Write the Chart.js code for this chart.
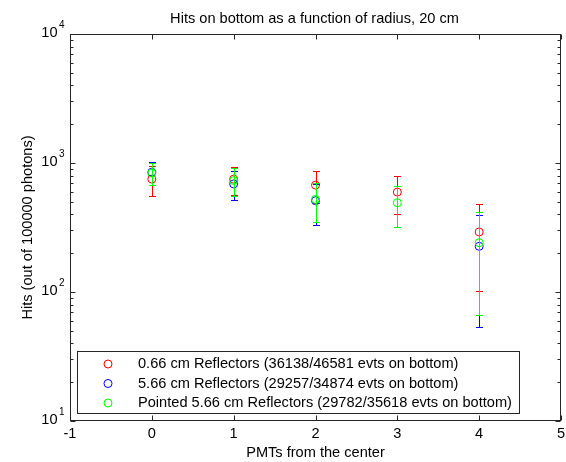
<!DOCTYPE html>
<html>
<head>
<meta charset="utf-8">
<script src="https://cdn.jsdelivr.net/npm/chart.js@4.4.0/dist/chart.umd.min.js"></script>
<style>
  html, body { margin: 0; padding: 0; background: #fff; }
  #wrap { width: 566px; height: 462px; }
</style>
</head>
<body>
<div id="wrap"><canvas id="hits-chart" width="566" height="462"></canvas></div>
<script>
// values (hits out of 100000 photons)
var pmtPos = [0, 1, 2, 3, 4];
var hitsThin = [750, 750, 674, 595, 292];
var errThin = [193, 185, 188, 193, 190];
var hitsThick = [848, 688, 510, null, 226];
var errThick = [170, 175, 181, null, 172];
var hitsPointed = [836, 731, 522, 492, 241];
var errPointed = [158, 178, 173, 173, 175];

var seriesLabels = [
    '0.66 cm Reflectors (36138/46581 evts on bottom)',
    '5.66 cm Reflectors (29257/34874 evts on bottom)',
    'Pointed 5.66 cm Reflectors (29782/35618 evts on bottom)'
];
var seriesColors = ['#ff0000', '#0000ff', '#00ff00'];

var xTicks = [-1, 0, 1, 2, 3, 4, 5];
var yDecades = [10, 100, 1000, 10000];
var yExponents = ['1', '2', '3', '4'];
var minorSteps = [2, 3, 4, 5, 6, 7, 8, 9];

var chartTitle = 'Hits on bottom as a function of radius, 20 cm';
var xTitle = 'PMTs from the center';
var yTitle = 'Hits (out of 100000 photons)';

var FONT = '"Liberation Sans", Arial, sans-serif';
var TXT = '14.6px ' + FONT;

function toPoints(ys) {
    return pmtPos.map(function (x, i) { return { x: x, y: ys[i] }; });
}

// error bars, drawn just before each series' markers (pixel rects so they stay crisp)
var errorBars = {
    id: 'errorBars',
    beforeDatasetDraw: function (chart, args) {
        var set = chart.data.datasets[args.index];
        var xs = chart.scales.x, ys = chart.scales.y;
        var ctx = chart.ctx, area = chart.chartArea;
        ctx.save();
        ctx.fillStyle = set.borderColor;
        set.data.forEach(function (p, i) {
            if (p.y == null) return;
            var e = set.errors[i];
            var px = Math.round(xs.getPixelForValue(p.x));
            var top = Math.round(ys.getPixelForValue(p.y + e));
            var bot = Math.round(ys.getPixelForValue(p.y - e));
            top = Math.max(top, Math.round(area.top));
            bot = Math.min(bot, Math.round(area.bottom) - 1);
            ctx.fillRect(px, top, 1, bot - top + 1);
            ctx.fillRect(px - 3, top, 7, 1);
            ctx.fillRect(px - 3, bot, 7, 1);
        });
        ctx.restore();
    }
};

// matlab style box, inward ticks, labels and legend
var axesBox = {
    id: 'axesBox',
    afterDraw: function (chart) {
        var ctx = chart.ctx, a = chart.chartArea;
        var xs = chart.scales.x, ys = chart.scales.y;
        var L = Math.round(a.left) + 0.5, R = Math.round(a.right) - 0.5;
        var T = Math.round(a.top) + 0.5, B = Math.round(a.bottom) - 0.5;
        ctx.save();
        ctx.strokeStyle = '#262626';
        ctx.lineWidth = 1;
        ctx.strokeRect(L, T, R - L, B - T);

        ctx.beginPath();
        xTicks.forEach(function (v) {
            var px = Math.round(xs.getPixelForValue(v)) + 0.5;
            ctx.moveTo(px, B); ctx.lineTo(px, B - 5);
            ctx.moveTo(px, T); ctx.lineTo(px, T + 5);
        });
        yDecades.forEach(function (d, k) {
            var py = Math.round(ys.getPixelForValue(d)) + 0.5;
            ctx.moveTo(L, py); ctx.lineTo(L + 5, py);
            ctx.moveTo(R, py); ctx.lineTo(R - 5, py);
            if (k == yDecades.length - 1) return;
            minorSteps.forEach(function (m) {
                var pm = Math.round(ys.getPixelForValue(d * m)) + 0.5;
                ctx.moveTo(L, pm); ctx.lineTo(L + 3, pm);
                ctx.moveTo(R, pm); ctx.lineTo(R - 3, pm);
            });
        });
        ctx.stroke();

        ctx.fillStyle = '#000';
        ctx.font = TXT;
        ctx.textBaseline = 'middle';
        ctx.textAlign = 'center';
        xTicks.forEach(function (v) {
            ctx.fillText(String(v), xs.getPixelForValue(v), a.bottom + 13);
        });
        yDecades.forEach(function (d, k) {
            var py = ys.getPixelForValue(d);
            ctx.font = TXT;
            ctx.textAlign = 'right';
            ctx.fillText('10', 57.5, py - 1);
            ctx.font = '10px ' + FONT;
            ctx.textAlign = 'left';
            ctx.fillText(yExponents[k], 59, py - 8.5);
        });

        // titles
        ctx.font = TXT;
        ctx.textAlign = 'center';
        var cx = (a.left + a.right) / 2;
        ctx.fillText(chartTitle, cx - 1, 19);
        ctx.fillText(xTitle, cx, 453);
        ctx.save();
        ctx.translate(27.5, (a.top + a.bottom) / 2);
        ctx.rotate(-Math.PI / 2);
        ctx.fillText(yTitle, 0, 0);
        ctx.restore();

        // legend
        ctx.fillStyle = '#fff';
        ctx.fillRect(77.5, 351.5, 442, 62);
        ctx.strokeStyle = '#262626';
        ctx.strokeRect(77.5, 351.5, 442, 62);
        seriesLabels.forEach(function (lab, i) {
            var ly = 364 + i * 19.5;
            ctx.beginPath();
            ctx.strokeStyle = seriesColors[i];
            ctx.arc(108, ly, 4, 0, Math.PI * 2);
            ctx.stroke();
            ctx.fillStyle = '#000';
            ctx.textAlign = 'left';
            ctx.fillText(lab, 138, ly);
        });
        ctx.restore();
    }
};

var series = [
    { label: seriesLabels[0], data: toPoints(hitsThin), errors: errThin, order: 3 },
    { label: seriesLabels[1], data: toPoints(hitsThick), errors: errThick, order: 2 },
    { label: seriesLabels[2], data: toPoints(hitsPointed), errors: errPointed, order: 1 }
];
series.forEach(function (s, i) {
    s.borderColor = seriesColors[i];
    s.backgroundColor = 'rgba(0,0,0,0)';
    s.borderWidth = 1;
    s.pointRadius = 4;
    s.pointStyle = 'circle';
    s.showLine = false;
});

var eChart = document.getElementById('hits-chart');
var myChart = new Chart(eChart, {
    type: 'scatter',
    data: { datasets: series },
    options: {
        responsive: false,
        animation: false,
        layout: { padding: { left: 70, top: 34, right: 5, bottom: 41 } },
        plugins: {
            legend: { display: false },
            tooltip: { enabled: false },
            title: { display: false }
        },
        scales: {
            x: { type: 'linear', min: -1, max: 5, display: false },
            y: { type: 'logarithmic', min: 10, max: 10000, display: false }
        }
    },
    plugins: [errorBars, axesBox]
});
</script>
</body>
</html>
